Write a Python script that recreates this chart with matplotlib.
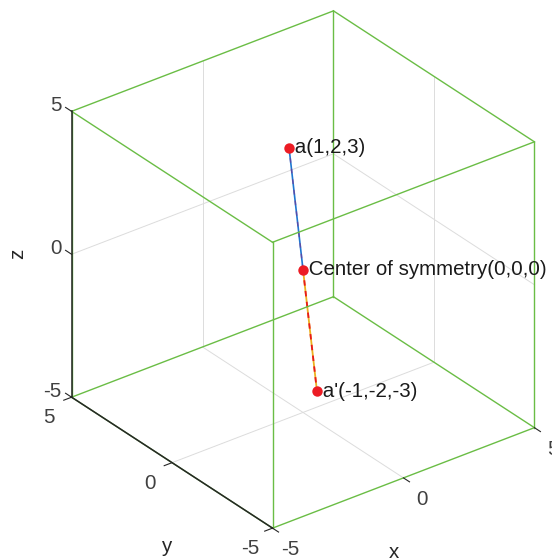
import numpy as np
import matplotlib.pyplot as plt
from itertools import product

plt.rcParams['font.family'] = ['Liberation Sans', 'DejaVu Sans']

# points: a, centre of symmetry, a'
px = [1, 0, -1]
py = [2, 0, -2]
pz = [3, 0, -3]
names = ['a(1,2,3)', 'Center of symmetry(0,0,0)', "a'(-1,-2,-3)"]

lim = (-5, 5)
ticks = [-5, 0, 5]

box_col = '#6ABD45'
grid_col = '#dcdcdc'
ax_col = '#262626'
tick_col = '#404040'

fig = plt.figure(figsize=(5.52, 5.6), dpi=100)
ax = fig.add_axes([18/552, 5.5/560, 555/552, 555/560], projection='3d')
ax.set_proj_type('ortho')
ax.view_init(elev=30, azim=-127.5)
ax.set_box_aspect((1, 1, 1))
ax.set_xlim(lim)
ax.set_ylim(lim)
ax.set_zlim(lim)
ax.set_axis_off()
ax.computed_zorder = False

lo, hi = lim

# grid on the back planes
gkw = dict(color=grid_col, lw=0.7, zorder=1)
for t in ticks:
    if lo < t < hi:
        ax.plot([t, t], [lo, hi], [lo, lo], **gkw)
        ax.plot([lo, hi], [t, t], [lo, lo], **gkw)
        ax.plot([t, t], [hi, hi], [lo, hi], **gkw)
        ax.plot([lo, hi], [hi, hi], [t, t], **gkw)
        ax.plot([hi, hi], [t, t], [lo, hi], **gkw)
        ax.plot([hi, hi], [lo, hi], [t, t], **gkw)

# segment a -> centre, centre -> a'
ax.plot(px[:2], py[:2], pz[:2], color='#1F77D0', lw=1.2, zorder=2)
ax.plot(px[:2], py[:2], pz[:2], color='#7E2F8E', lw=1.1, alpha=0.6,
        ls=(0, (3, 4)), zorder=2)
ax.plot(px[1:], py[1:], pz[1:], color='#EDB120', lw=1.3, zorder=2)
ax.plot(px[1:], py[1:], pz[1:], color='#E8191C', lw=1.3, ls=(0, (3, 3)), zorder=2)

# box
corners = list(product(lim, lim, lim))
for i, c1 in enumerate(corners):
    for c2 in corners[i + 1:]:
        if sum(a != b for a, b in zip(c1, c2)) == 1:
            ax.plot(*zip(c1, c2), color=box_col, lw=1.0, zorder=3)

# axis lines
ax.plot([lo, lo], [hi, hi], [lo, hi], color=ax_col, lw=1.1, zorder=4)
ax.plot([lo, lo], [lo, hi], [lo, lo], color=ax_col, lw=1.1, zorder=4)

# ticks + labels
tl = 0.3
fs = 14.75
for t in ticks:
    ax.plot([lo, lo], [hi, hi + tl], [t, t], color=ax_col, lw=0.8, zorder=4)
    ax.plot([lo, lo - tl], [t, t], [lo, lo], color=ax_col, lw=0.8, zorder=4)
    ax.plot([t, t], [lo, lo - tl], [lo, lo], color=ax_col, lw=0.8, zorder=4)
    ax.text(t, lo - 0.9, lo - 0.35, str(t), ha='center', va='center',
            fontsize=fs, color=tick_col)
    ax.text(lo - 0.85, t, lo - 0.42, str(t), ha='center', va='center',
            fontsize=fs, color=tick_col)
    ax.text(lo - 0.2, hi + 0.25, t + 0.17, str(t), ha='right', va='center',
            fontsize=fs, color=tick_col)

ax.text(-1.38, -6.3, -6.54, 'x', ha='center', va='center', fontsize=fs, color=ax_col)
ax.text(-6.2, -1.3, -6.92, 'y', ha='center', va='center', fontsize=fs, color=ax_col)
ax.text(-6.04, 6.35, -0.25, 'z', zdir='z', ha='center', va='center', fontsize=fs, color=ax_col)

ax.plot(px, py, pz, 'o', ls='none', color='#EC1C24', ms=7.5, mew=0, zorder=6)
for x, y, z, s in zip(px, py, pz, names):
    ax.text(x, y, z, ' ' + s, ha='left', va='center', fontsize=fs,
            color='#1a1a1a', zorder=7)

fig.savefig('out.png', dpi=100)
